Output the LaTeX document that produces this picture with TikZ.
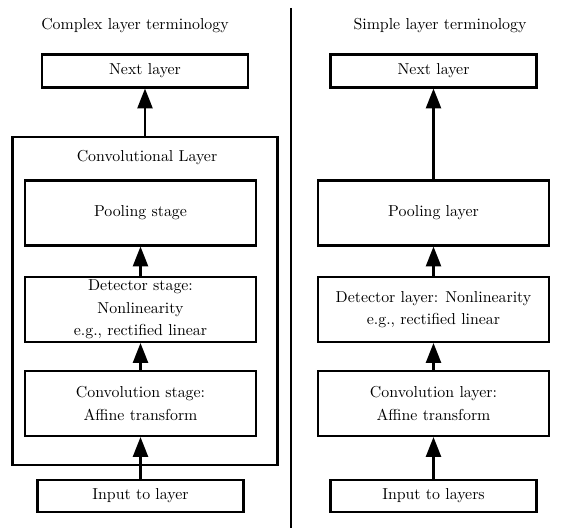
\documentclass[tikz,border=0pt]{standalone}
\usetikzlibrary{arrows.meta}
\newcommand\pxu{0.63pt}
\begin{document}
\begin{tikzpicture}[x=0.63pt,y=-0.63pt,
  box/.style={draw,line width=1.3pt,inner sep=0pt,align=center,
    font=\fontsize{10}{14.3}\selectfont},
  wide/.style={box,minimum width=231*\pxu,minimum height=65*\pxu},
  slim/.style={box,minimum width=206*\pxu,minimum height=33*\pxu},
  outer/.style={draw,line width=1.3pt,inner sep=0pt,minimum width=265*\pxu,minimum height=328*\pxu},
  title/.style={font=\fontsize{10}{12}\selectfont,inner sep=0pt},
  flow/.style={line width=1.3pt,-{Triangle[length=12.5pt,width=9.5pt]}}]
\useasboundingbox (0,0) rectangle (562,531);
% divider
\coordinate (dtop) at (291,8);
\coordinate (dbot) at (291,528);
\draw[line width=1pt] (dtop) -- (dbot);
% left column
\node[title] (tl) at (135,26) {Complex layer terminology};
\node[slim] (nextL) at (145,71) {Next layer};
\node[outer] (big) at (145,301) {};
\node[title] (biglabel) at (147,158) {Convolutional Layer};
\node[wide] (poolL) at (140.5,213) {Pooling stage};
\node[wide] (detL) at (140.5,309.5) {Detector stage:\\Nonlinearity\\e.g., rectified linear};
\node[wide] (convL) at (140.5,403.5) {Convolution stage:\\Affine transform};
\node[slim,minimum height=32*\pxu] (inL) at (140.5,496) {Input to layer};
\draw[flow] (big.north) -- (nextL.south);
\draw[flow] (detL.north) -- (poolL.south);
\draw[flow] (convL.north) -- (detL.south);
\draw[flow] (inL.north) -- (convL.south);
% right column
\node[title] (tr) at (440,26) {Simple layer terminology};
\node[slim] (nextR) at (433.5,71) {Next layer};
\node[wide] (poolR) at (433.5,213) {Pooling layer};
\node[wide] (detR) at (433.5,309.5) {Detector layer: Nonlinearity\\e.g., rectified linear};
\node[wide] (convR) at (433.5,403.5) {Convolution layer:\\Affine transform};
\node[slim,minimum height=32*\pxu] (inR) at (433.5,496) {Input to layers};
\draw[flow] (poolR.north) -- (nextR.south);
\draw[flow] (detR.north) -- (poolR.south);
\draw[flow] (convR.north) -- (detR.south);
\draw[flow] (inR.north) -- (convR.south);
\end{tikzpicture}
\end{document}
